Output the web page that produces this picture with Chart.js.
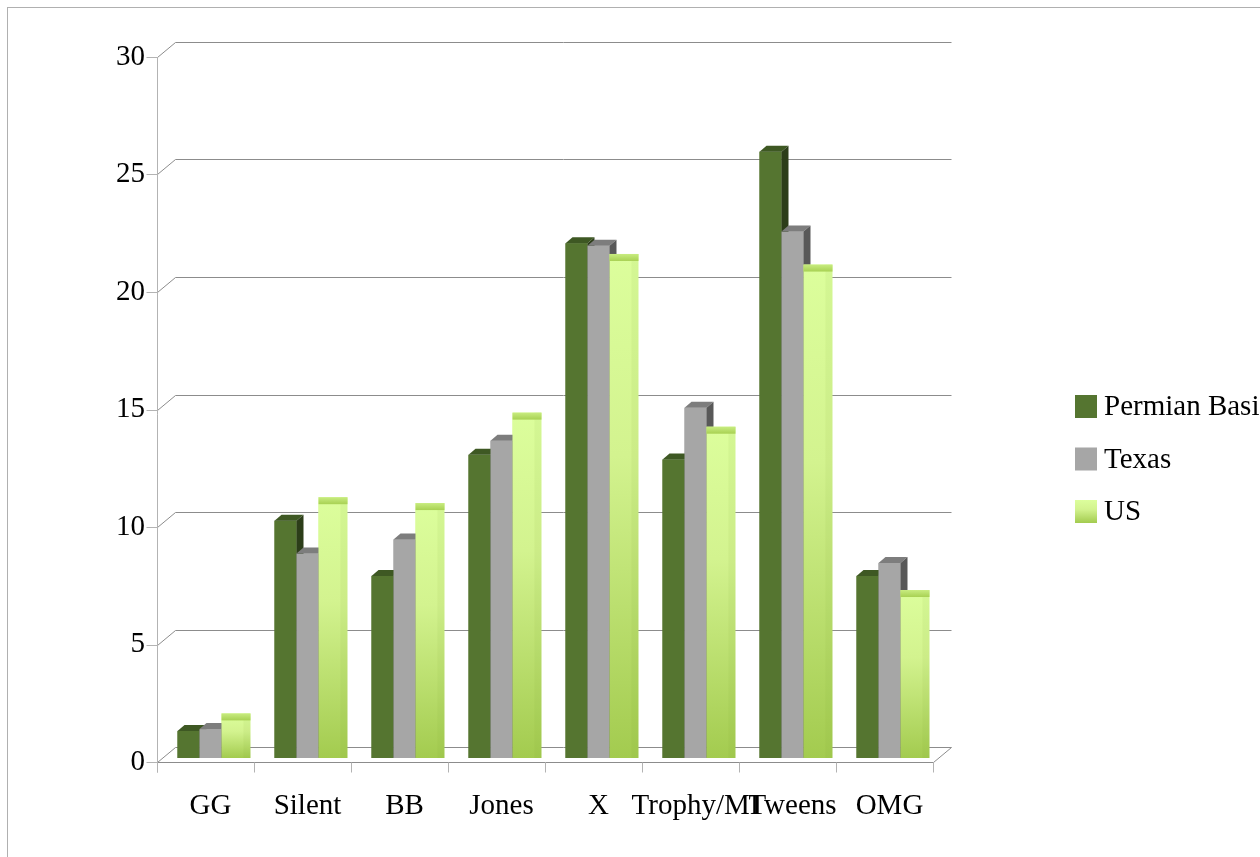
<!DOCTYPE html>
<html>
<head>
<meta charset="utf-8">
<script src="https://cdn.jsdelivr.net/npm/chart.js@4.4.1/dist/chart.umd.min.js"></script>
<style>
  html, body { margin: 0; padding: 0; background: #fff; }
  canvas { display: block; }
</style>
</head>
<body>
<canvas id="gradeChart" width="1260" height="857"></canvas>
<script>
const categories = ['GG', 'Silent', 'BB', 'Jones', 'X', 'Trophy/MI', 'Tweens', 'OMG'];
const permianBasin = [1.15, 10.1, 7.75, 12.9, 21.9, 12.7, 25.8, 7.75];
const texas = [1.23, 8.7, 9.3, 13.5, 21.8, 14.9, 22.4, 8.3];
const us = [1.6, 10.8, 10.55, 14.4, 21.15, 13.8, 20.7, 6.85];
const seriesNames = ['Permian Basin', 'Texas', 'US'];

const FONT = { family: '"Liberation Serif", "Times New Roman", serif', size: 29 };

// fake 3d depth
const WALL_DX = 18, WALL_DY = 15;   // back wall offset
const FRONT_DY = 4;                 // front plane sits a bit below the bar base
const BAR_SHIFT = 5;                // bars stand slightly inside the floor
const BAR_DX = 7, BAR_DY = 6;       // bar top/side depth

const faceColors = [
  { front: '#557530', top: '#3e5823', side: '#2c3d19' },
  { front: '#a6a6a6', top: '#7d7d7d', side: '#585858' },
  { front: '#d8f997', top: null, side: null }
];

function usGradient(ctx, top, bottom) {
  const g = ctx.createLinearGradient(0, top, 0, bottom);
  g.addColorStop(0, '#dcfe9c');
  g.addColorStop(0.4, '#d3f38f');
  g.addColorStop(1, '#a3cb4f');
  return g;
}

// front, top and side of one bar
function drawBox(ctx, bar, idx) {
  const { x, y, base, width } = bar.getProps(['x', 'y', 'base', 'width'], true);
  const x0 = x - width / 2, x1 = x + width / 2;
  const c = faceColors[idx];
  if (idx === 2) {
    // light column, top band flat across front and side
    const top = y - BAR_DY - 1;
    ctx.fillStyle = usGradient(ctx, top, base);
    ctx.fillRect(x0, top, width + BAR_DX, base - top);
    ctx.fillStyle = 'rgba(120,160,40,0.07)';
    ctx.fillRect(x1, top, BAR_DX, base - top);
    const gb = ctx.createLinearGradient(0, top, 0, y);
    gb.addColorStop(0, '#c8ec80');
    gb.addColorStop(1, '#a8d153');
    ctx.fillStyle = gb;
    ctx.fillRect(x0, top, width + BAR_DX, y - top);
    return;
  }
  ctx.fillStyle = c.front;
  ctx.fillRect(x0, y, width, base - y);
  ctx.fillStyle = c.top;
  ctx.beginPath();
  ctx.moveTo(x0, y);
  ctx.lineTo(x1, y);
  ctx.lineTo(x1 + BAR_DX, y - BAR_DY);
  ctx.lineTo(x0 + BAR_DX, y - BAR_DY);
  ctx.closePath();
  ctx.fill();
  ctx.fillStyle = c.side;
  ctx.beginPath();
  ctx.moveTo(x1, y);
  ctx.lineTo(x1 + BAR_DX, y - BAR_DY);
  ctx.lineTo(x1 + BAR_DX, base - BAR_DY);
  ctx.lineTo(x1, base);
  ctx.closePath();
  ctx.fill();
}

const box3d = {
  id: 'box3d',
  beforeDraw(chart) {
    const ctx = chart.ctx;
    ctx.save();
    ctx.strokeStyle = '#b0b0b0';
    ctx.lineWidth = 1;
    ctx.strokeRect(7.5, 7.5, 1400, 1000);
    ctx.restore();
  },
  beforeDatasetsDraw(chart) {
    const { ctx, chartArea, scales: { y } } = chart;
    const left = chartArea.left + 0.5, right = chartArea.right + 0.5;
    const floorY = Math.round(y.getPixelForValue(0) + FRONT_DY) + 0.5;
    ctx.save();
    ctx.lineWidth = 1;

    // back wall lines + diagonals
    y.ticks.forEach(t => {
      const yf = Math.round(y.getPixelForValue(t.value) + FRONT_DY) + 0.5;
      const yb = yf - WALL_DY;
      ctx.strokeStyle = '#8c8c8c';
      ctx.beginPath();
      ctx.moveTo(left, yf);
      ctx.lineTo(left + WALL_DX, yb);
      ctx.lineTo(right + WALL_DX, yb);
      ctx.stroke();
      ctx.strokeStyle = '#b3b3b3';
      ctx.beginPath();
      ctx.moveTo(left - 11, yf);
      ctx.lineTo(left, yf);
      ctx.stroke();
    });

    // floor front edge
    ctx.strokeStyle = '#8c8c8c';
    ctx.beginPath();
    ctx.moveTo(left, floorY);
    ctx.lineTo(right, floorY);
    ctx.lineTo(right + WALL_DX, floorY - WALL_DY);
    ctx.stroke();

    // value axis line
    ctx.strokeStyle = '#b3b3b3';
    ctx.beginPath();
    ctx.moveTo(left, Math.round(y.getPixelForValue(30) + FRONT_DY));
    ctx.lineTo(left, floorY + 10);
    ctx.stroke();

    // category ticks
    const step = (chartArea.right - chartArea.left) / categories.length;
    for (let i = 0; i <= categories.length; i++) {
      const xx = Math.round(chartArea.left + i * step) + 0.5;
      ctx.beginPath();
      ctx.moveTo(xx, floorY);
      ctx.lineTo(xx, floorY + 10);
      ctx.stroke();
    }
    ctx.restore();

    ctx.save();
    ctx.translate(BAR_SHIFT, 0);
  },
  afterDatasetsDraw(chart) {
    const ctx = chart.ctx;
    // redraw series left to right so each bar hides its neighbour's side
    for (let d = 0; d < chart.data.datasets.length; d++) {
      chart.getDatasetMeta(d).data.forEach(bar => drawBox(ctx, bar, d));
    }
    ctx.restore();
  },
  afterDraw(chart) {
    const ctx = chart.ctx;
    ctx.save();
    ctx.font = FONT.size + 'px ' + FONT.family;
    ctx.textBaseline = 'middle';
    seriesNames.forEach((name, i) => {
      const sy = 395 + i * 52.5;
      if (i === 2) ctx.fillStyle = usGradient(ctx, sy, sy + 23);
      else ctx.fillStyle = faceColors[i].front;
      ctx.fillRect(1075, sy, 22, 23);
      ctx.fillStyle = '#000';
      ctx.fillText(name, 1104, sy + 12.5);
    });
    ctx.restore();
  }
};

const barStyle = { categoryPercentage: 0.68, barPercentage: 1.0, borderWidth: 0 };

new Chart(document.getElementById('gradeChart'), {
  type: 'bar',
  data: {
    labels: categories,
    datasets: [
      { label: seriesNames[0], data: permianBasin, backgroundColor: faceColors[0].front, ...barStyle },
      { label: seriesNames[1], data: texas, backgroundColor: faceColors[1].front, ...barStyle },
      { label: seriesNames[2], data: us, backgroundColor: faceColors[2].front, ...barStyle }
    ]
  },
  options: {
    responsive: false,
    animation: false,
    layout: { padding: { left: 0, right: 327, top: 53, bottom: 0 } },
    scales: {
      x: {
        grid: { display: false, drawTicks: false },
        border: { display: false },
        ticks: { font: FONT, color: '#000', padding: 31, labelOffset: BAR_SHIFT, autoSkip: false, maxRotation: 0 },
        afterFit: s => { s.height = 99; }
      },
      y: {
        min: 0,
        max: 30,
        grid: { display: false, drawTicks: false },
        border: { display: false },
        ticks: { stepSize: 5, font: FONT, color: '#000', padding: 12, labelOffset: FRONT_DY },
        afterFit: s => { s.width = 157; }
      }
    },
    plugins: {
      legend: { display: false },
      tooltip: { enabled: false }
    }
  },
  plugins: [box3d]
});
</script>
</body>
</html>
